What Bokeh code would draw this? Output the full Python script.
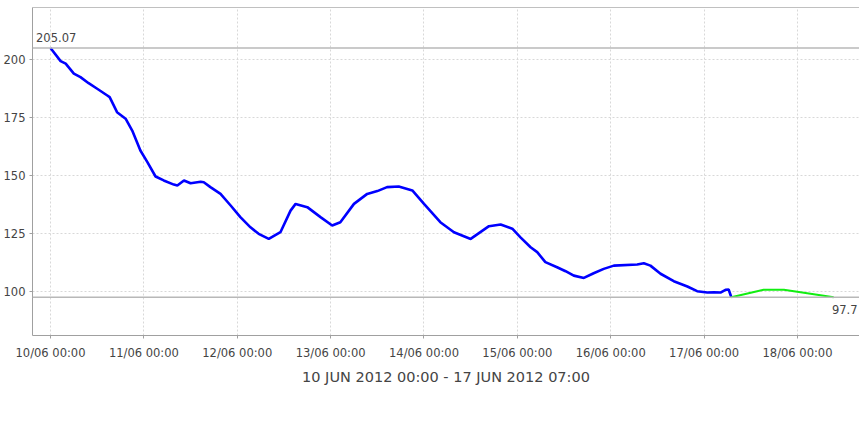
import pandas as pd
from bokeh.plotting import figure
from bokeh.models import (Range1d, FixedTicker, DaysTicker, DatetimeTickFormatter,
                          Span, Label, Legend, LegendItem, LinearAxis)
from bokeh.embed import file_html
from bokeh.resources import INLINE

# ---------------- data ----------------
START = "2012-06-10 00:00"
# observed discharge, hours after START
hours_q = [0, 2.6, 3.9, 6.0, 7.7, 9.8, 12.0, 14.6, 15.2, 17.1, 19.3, 21.0, 23.1, 24.9,
           27.0, 29.1, 31.7, 32.6, 34.3, 36.0, 38.6, 39.4, 41.1, 43.7, 46.3, 48.8, 51.4,
           53.5, 56.1, 59.1, 61.7, 63.0, 66.0, 69.4, 72.4, 74.5, 78.0, 81.4, 84.0, 86.5,
           89.5, 93.0, 96.0, 100.2, 103.7, 108.0, 112.7, 115.7, 118.7, 120.8, 123.4,
           125.1, 127.2, 130.2, 132.4, 134.5, 137.1, 139.6, 142.2, 144.8, 150.8, 152.5,
           154.2, 156.8, 160.2, 163.7, 166.2, 168.8, 170.5, 172.2, 173.5, 174.3, 175.0]
flow_q = [205.07, 199.4, 198.3, 194.0, 192.5, 189.9, 187.5, 184.6, 183.9, 177.4, 174.6,
          169.5, 160.9, 155.9, 149.7, 148.0, 146.2, 145.8, 148.0, 146.8, 147.4, 147.2,
          145.1, 142.2, 137.2, 132.2, 127.8, 125.0, 122.8, 125.7, 135.0, 137.9, 136.5,
          132.2, 128.6, 130.0, 137.9, 142.2, 143.4, 145.1, 145.4, 143.7, 137.9, 130.0,
          125.7, 122.8, 128.3, 129.0, 127.2, 123.5, 119.2, 117.1, 112.8, 110.6, 108.9,
          107.0, 106.0, 108.0, 109.9, 111.3, 111.8, 112.3, 111.3, 107.8, 104.6, 102.3,
          100.3, 99.7, 99.8, 99.7, 100.9, 101.0, 97.7]
# forecast
hours_p = [175.0, 183.3, 188.5, 194.5, 201.3]
flow_p = [97.7, 100.9, 100.9, 99.4, 97.7]

y_ticks = [100, 125, 150, 175, 200]
max_mark = 205.07
min_mark = 97.7
x_title = "10 JUN 2012 00:00 - 17 JUN 2012 07:00"
series_names = ["Q(m3/s)", "Falha", "Previsto"]

# ---------------- build ----------------
t0 = pd.Timestamp(START)
tq = t0 + pd.to_timedelta(hours_q, unit="h")
tp = t0 + pd.to_timedelta(hours_p, unit="h")

x_start = t0 - pd.Timedelta(hours=4.63)
x_end = t0 + pd.Timedelta(hours=207.94)

TICK_FONT = "DejaVu Sans Condensed, DejaVu Sans"
GREY_TXT = "#444444"

p = figure(x_axis_type="datetime", frame_width=827, frame_height=328,
           min_border_left=32, min_border_top=7, min_border_right=0, min_border_bottom=63,
           x_range=Range1d(x_start.to_pydatetime(), x_end.to_pydatetime()),
           y_range=Range1d(81.2, 222.5),
           output_backend="svg", toolbar_location=None,
           background_fill_color="white", border_fill_color="white",
           outline_line_color=None)

xa = p.below[0]
ya = p.left[0]

# top border of the plot area
top_axis = LinearAxis(ticker=FixedTicker(ticks=[]), axis_line_color="#c0c0c0",
                      major_tick_line_color=None, minor_tick_line_color=None,
                      major_label_standoff=0, major_tick_out=0, major_tick_in=0)
p.add_layout(top_axis, "above")

# axes
day_ticker = DaysTicker(days=list(range(1, 32)))
xa.ticker = day_ticker
p.xgrid.ticker = day_ticker
fmt = "%d/%m %H:%M"
xa.formatter = DatetimeTickFormatter(days=fmt, hours=fmt, months=fmt, years=fmt,
                                     hourmin=fmt, minutes=fmt, context=None)
ya.ticker = FixedTicker(ticks=y_ticks)
p.ygrid.ticker = FixedTicker(ticks=y_ticks)
for ax in (xa, ya):
    ax.axis_line_color = "#a0a0a0"
    ax.major_tick_line_color = "#a0a0a0"
    ax.major_tick_in = 0
    ax.major_tick_out = 3
    ax.minor_tick_line_color = None
    ax.major_label_text_font = TICK_FONT
    ax.major_label_text_font_size = "12.8px"
    ax.major_label_text_color = GREY_TXT
    ax.major_label_standoff = 6
ya.major_label_standoff = 4
xa.axis_label = x_title
xa.axis_label_text_font = "DejaVu Sans"
xa.axis_label_text_font_size = "14.5px"
xa.axis_label_text_font_style = "normal"
xa.axis_label_text_color = GREY_TXT
xa.axis_label_standoff = 6

# grid
for g in (p.xgrid, p.ygrid):
    g.grid_line_color = "#d8d8d8"
    g.grid_line_dash = "2 2"
    g.grid_line_width = 1

# markers
p.add_layout(Span(location=max_mark, dimension="width", line_color="#b8b8b8", line_width=1.5))
p.add_layout(Span(location=min_mark, dimension="width", line_color="#b8b8b8", line_width=1.5))

r_q = p.line(tq, flow_q, line_color="#0000ff", line_width=2.6)
r_p = p.line(tp, flow_p, line_color="#11ee11", line_width=2)
r_f = p.scatter([], [], marker="circle", fill_color="#c4c4c4", line_color="#c4c4c4")
r_s = p.scatter([], [], marker="square", fill_color="#00ff00", line_color="#00ff00")

ms = lambda t: (t - pd.Timestamp("1970-01-01")) / pd.Timedelta(milliseconds=1)
p.add_layout(Label(x=ms(x_start), y=max_mark, text=f"{max_mark:.2f}", x_offset=3.5, y_offset=6,
                   text_baseline="bottom", text_align="left", text_font=TICK_FONT,
                   text_font_size="12.8px", text_color=GREY_TXT))
p.add_layout(Label(x=ms(x_end), y=min_mark, text=f"{min_mark}", x_offset=-2, y_offset=-8,
                   text_baseline="top", text_align="right", text_font=TICK_FONT,
                   text_font_size="12.8px", text_color=GREY_TXT))

legend = Legend(items=[LegendItem(label=series_names[0], renderers=[r_q]),
                       LegendItem(label=series_names[1], renderers=[r_f]),
                       LegendItem(label=series_names[2], renderers=[r_s])],
                orientation="horizontal", location=(292, 0), margin=0,
                padding=4, spacing=0, glyph_width=17, glyph_height=17, label_height=22,
                label_standoff=3, label_text_font_size="13px", label_text_font=TICK_FONT,
                label_text_color="#222222",
                border_line_color="#555555", border_line_width=1,
                background_fill_color="white", background_fill_alpha=1)
p.add_layout(legend, "below")

open("out.html", "w").write(file_html(p, INLINE))
